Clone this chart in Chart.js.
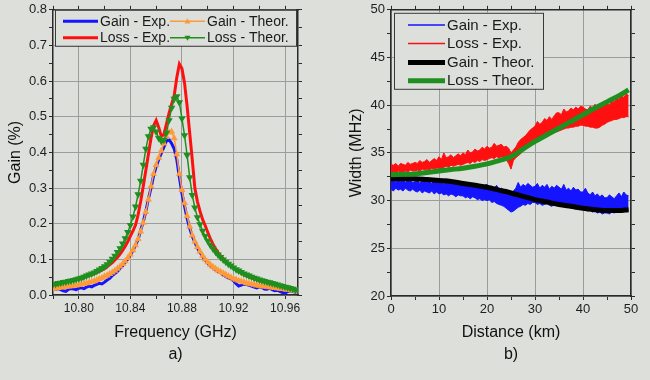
<!DOCTYPE html>
<html>
<head>
<meta charset="utf-8">
<script src="https://cdn.jsdelivr.net/npm/chart.js@4.4.0/dist/chart.umd.min.js"></script>
<style>
  html, body { margin: 0; padding: 0; background: #dddfdb; }
  body { width: 650px; height: 380px; position: relative; overflow: hidden; }
  .panel { position: absolute; top: 0; }
  #panelA { left: 0; }
  #panelB { left: 325px; }
</style>
</head>
<body>
<div class="panel" id="panelA"><canvas id="chartA" width="320" height="380"></canvas></div>
<div class="panel" id="panelB"><canvas id="chartB" width="325" height="380"></canvas></div>
<script>
// ------------------------------
// Panel a) gain spectra vs frequency
// ------------------------------
const freqGHz = [
  10.780, 10.782, 10.784, 10.786, 10.788, 10.790, 10.792, 10.794, 10.796, 10.798,
  10.800, 10.802, 10.804, 10.806, 10.808, 10.810, 10.812, 10.814, 10.816, 10.818,
  10.820, 10.822, 10.824, 10.826, 10.828, 10.830, 10.832, 10.834, 10.836, 10.838,
  10.840, 10.842, 10.844, 10.846, 10.848, 10.850, 10.852, 10.854, 10.856, 10.858,
  10.860, 10.862, 10.864, 10.866, 10.868, 10.870, 10.872, 10.874, 10.876, 10.878,
  10.880, 10.882, 10.884, 10.886, 10.888, 10.890, 10.892, 10.894, 10.896, 10.898,
  10.900, 10.902, 10.904, 10.906, 10.908, 10.910, 10.912, 10.914, 10.916, 10.918,
  10.920, 10.922, 10.924, 10.926, 10.928, 10.930, 10.932, 10.934, 10.936, 10.938,
  10.940, 10.942, 10.944, 10.946, 10.948, 10.950, 10.952, 10.954, 10.956, 10.958,
  10.960, 10.962, 10.964, 10.966, 10.968, 10.970
];

const gainExpA = [
  0.020, 0.016, 0.018, 0.015, 0.012, 0.010, 0.016, 0.018, 0.017, 0.015,
  0.019, 0.020, 0.018, 0.022, 0.025, 0.023, 0.027, 0.030, 0.033, 0.031,
  0.036, 0.042, 0.047, 0.055, 0.060, 0.066, 0.075, 0.082, 0.092, 0.101,
  0.112, 0.125, 0.140, 0.156, 0.182, 0.205, 0.235, 0.270, 0.300, 0.335,
  0.360, 0.380, 0.398, 0.415, 0.432, 0.436, 0.425, 0.410, 0.380, 0.330,
  0.285, 0.250, 0.215, 0.188, 0.165, 0.148, 0.132, 0.120, 0.108, 0.098,
  0.090, 0.082, 0.077, 0.070, 0.066, 0.062, 0.056, 0.052, 0.048, 0.045,
  0.040, 0.032, 0.025, 0.028, 0.031, 0.030, 0.027, 0.025, 0.022, 0.020,
  0.023, 0.021, 0.017, 0.016, 0.019, 0.015, 0.012, 0.013, 0.010, 0.007,
  0.005, 0.010, 0.012, 0.010, 0.008, 0.011
];

const lossExpA = [
  0.028, 0.029, 0.031, 0.032, 0.034, 0.036, 0.038, 0.040, 0.042, 0.045,
  0.048, 0.047, 0.049, 0.052, 0.055, 0.057, 0.060, 0.063, 0.066, 0.070,
  0.074, 0.079, 0.085, 0.091, 0.098, 0.106, 0.115, 0.125, 0.137, 0.150,
  0.165, 0.180, 0.196, 0.225, 0.262, 0.305, 0.350, 0.395, 0.440, 0.475,
  0.490, 0.470, 0.445, 0.450, 0.480, 0.510, 0.535, 0.560, 0.610, 0.648,
  0.635, 0.595, 0.530, 0.455, 0.380, 0.300, 0.262, 0.235, 0.212, 0.195,
  0.176, 0.158, 0.143, 0.130, 0.119, 0.110, 0.102, 0.094, 0.088, 0.082,
  0.076, 0.071, 0.066, 0.062, 0.058, 0.054, 0.051, 0.048, 0.045, 0.043,
  0.040, 0.038, 0.036, 0.034, 0.032, 0.030, 0.028, 0.026, 0.024, 0.022,
  0.020, 0.018, 0.017, 0.016, 0.015, 0.016
];

const gainTheorA = [
  0.018, 0.019, 0.020, 0.021, 0.022, 0.023, 0.024, 0.025, 0.026, 0.027,
  0.028, 0.030, 0.031, 0.033, 0.035, 0.037, 0.039, 0.042, 0.045, 0.048,
  0.052, 0.055, 0.059, 0.063, 0.068, 0.074, 0.080, 0.087, 0.095, 0.104,
  0.114, 0.126, 0.140, 0.157, 0.178, 0.203, 0.233, 0.268, 0.305, 0.340,
  0.365, 0.385, 0.405, 0.425, 0.443, 0.456, 0.458, 0.440, 0.395, 0.340,
  0.295, 0.258, 0.222, 0.192, 0.168, 0.150, 0.135, 0.122, 0.110, 0.100,
  0.092, 0.085, 0.079, 0.074, 0.069, 0.065, 0.061, 0.057, 0.053, 0.049,
  0.046, 0.043, 0.040, 0.038, 0.036, 0.034, 0.032, 0.030, 0.029, 0.027,
  0.026, 0.025, 0.024, 0.023, 0.022, 0.021, 0.020, 0.019, 0.018, 0.017,
  0.016, 0.015, 0.014, 0.013, 0.012, 0.011
];

const lossTheorA = [
  0.030, 0.031, 0.033, 0.034, 0.036, 0.037, 0.039, 0.040, 0.042, 0.044,
  0.046, 0.048, 0.051, 0.054, 0.057, 0.060, 0.063, 0.067, 0.071, 0.075,
  0.080, 0.086, 0.093, 0.101, 0.110, 0.120, 0.131, 0.144, 0.159, 0.176,
  0.196, 0.220, 0.248, 0.282, 0.320, 0.365, 0.410, 0.445, 0.466, 0.470,
  0.458, 0.440, 0.432, 0.435, 0.455, 0.490, 0.525, 0.550, 0.557, 0.540,
  0.495, 0.448, 0.392, 0.330, 0.280, 0.245, 0.218, 0.198, 0.180, 0.165,
  0.152, 0.140, 0.130, 0.121, 0.113, 0.106, 0.099, 0.093, 0.087, 0.082,
  0.077, 0.072, 0.068, 0.064, 0.060, 0.057, 0.054, 0.051, 0.048, 0.046,
  0.043, 0.041, 0.039, 0.037, 0.035, 0.033, 0.031, 0.029, 0.027, 0.025,
  0.023, 0.021, 0.019, 0.017, 0.015, 0.013
];

const freqTicks = [10.80, 10.84, 10.88, 10.92, 10.96];
const gainTicks = [0, 0.1, 0.2, 0.3, 0.4, 0.5, 0.6, 0.7, 0.8];

// ------------------------------
// Panel b) width vs distance (noisy bands: upper and lower edge)
// ------------------------------
const distKm = [
  0, 0.5, 1, 1.5, 2, 2.5, 3, 3.5, 4, 4.5,
  5, 5.5, 6, 6.5, 7, 7.5, 8, 8.5, 9, 9.5,
  10, 10.5, 11, 11.5, 12, 12.5, 13, 13.5, 14, 14.5,
  15, 15.5, 16, 16.5, 17, 17.5, 18, 18.5, 19, 19.5,
  20, 20.5, 21, 21.5, 22, 22.5, 23, 23.5, 24, 24.5,
  25, 25.5, 26, 26.5, 27, 27.5, 28, 28.5, 29, 29.5,
  30, 30.5, 31, 31.5, 32, 32.5, 33, 33.5, 34, 34.5,
  35, 35.5, 36, 36.5, 37, 37.5, 38, 38.5, 39, 39.5,
  40, 40.5, 41, 41.5, 42, 42.5, 43, 43.5, 44, 44.5,
  45, 45.5, 46, 46.5, 47, 47.5, 48, 48.5, 49, 49.5
];

const gainExpHiB = [
  32.1, 32.3, 31.9, 32.2, 32.0, 32.4, 31.9, 32.1, 32.2, 31.9,
  32.0, 32.2, 31.8, 32.1, 32.3, 31.9, 32.0, 31.8, 32.1, 31.9,
  31.9, 32.1, 31.7, 32.3, 31.8, 31.9, 31.7, 32.0, 31.8, 31.7,
  31.6, 31.9, 31.7, 31.5, 31.8, 31.6, 31.5, 31.7, 31.4, 31.6,
  31.7, 31.4, 31.5, 31.3, 31.6, 31.2, 31.3, 31.1, 31.2, 30.9,
  30.7, 31.0, 31.3, 31.9, 31.4, 31.7, 31.5, 31.8, 31.6, 31.4,
  31.5, 31.8, 31.3, 31.6, 31.4, 31.7, 31.2, 31.5, 31.3, 31.6,
  31.4, 31.2, 31.7, 31.1, 31.3, 31.0, 31.4, 31.1, 31.2, 30.9,
  30.9, 31.3, 30.8, 30.6, 30.9, 30.5, 30.7, 30.4, 30.6, 30.3,
  30.3, 30.6, 30.4, 30.2, 30.5, 30.8, 30.4, 30.9, 30.6, 30.5
];

const gainExpLoB = [
  31.2, 31.0, 31.3, 31.1, 31.2, 31.0, 31.3, 31.1, 31.0, 31.2,
  31.0, 30.9, 31.1, 30.8, 31.0, 30.9, 30.8, 31.0, 30.7, 30.9,
  30.7, 30.8, 30.6, 30.7, 30.5, 30.7, 30.6, 30.4, 30.6, 30.5,
  30.5, 30.3, 30.4, 30.2, 30.4, 30.3, 30.1, 30.2, 30.0, 30.1,
  30.0, 30.1, 29.8, 29.9, 29.7, 29.6, 29.5, 29.4, 29.2, 29.0,
  28.8, 28.9, 29.1, 29.3, 29.4, 29.6, 29.5, 29.7, 29.6, 29.8,
  29.8, 29.6, 29.7, 29.5, 29.6, 29.7, 29.5, 29.4, 29.6, 29.5,
  29.6, 29.4, 29.5, 29.3, 29.4, 29.2, 29.3, 29.1, 29.2, 29.1,
  29.1, 29.0, 28.9, 29.0, 28.8, 28.9, 28.7, 28.8, 28.6, 28.7,
  28.7, 28.6, 28.8, 28.7, 28.9, 28.8, 29.0, 28.9, 29.1, 29.0
];

const lossExpHiB = [
  33.8, 33.7, 33.9, 33.6, 33.9, 33.8, 33.7, 34.0, 33.8, 33.9,
  34.0, 33.9, 34.2, 34.0, 34.1, 34.3, 34.0, 34.2, 34.4, 34.2,
  34.6, 34.3, 35.0, 34.5, 34.6, 34.8, 34.5, 34.7, 34.9, 34.7,
  35.0, 34.8, 35.3, 35.0, 35.1, 35.4, 35.2, 35.3, 35.6, 35.4,
  35.7, 35.5, 35.6, 36.0, 35.7, 35.8, 35.9, 35.6, 35.7, 35.5,
  35.0, 35.3, 35.6, 36.1, 36.4, 36.6, 36.8, 37.1, 37.4, 37.6,
  37.8, 38.3, 38.0, 38.2, 38.6, 38.4, 38.8, 38.5, 38.9, 39.2,
  39.2, 39.0, 39.6, 39.3, 39.4, 39.7, 39.5, 39.8, 39.6, 39.9,
  39.8, 39.6, 39.5, 39.9, 39.7, 40.1, 39.8, 40.0, 39.8, 40.1,
  40.2, 40.0, 40.5, 40.3, 40.8, 40.6, 41.1, 40.8, 41.2, 41.0
];

const lossExpLoB = [
  32.9, 33.0, 32.9, 33.1, 33.0, 32.9, 33.1, 33.0, 33.2, 33.1,
  33.1, 33.2, 33.1, 33.3, 33.2, 33.3, 33.2, 33.4, 33.3, 33.4,
  33.4, 33.3, 33.5, 33.6, 33.5, 33.7, 33.6, 33.7, 33.8, 33.7,
  33.8, 33.9, 34.0, 33.9, 34.1, 34.0, 34.2, 34.1, 34.3, 34.2,
  34.3, 34.4, 34.5, 34.4, 34.6, 34.5, 34.6, 34.4, 34.3, 33.9,
  33.3, 34.2, 34.5, 34.7, 34.9, 35.2, 35.4, 35.6, 35.8, 35.9,
  36.0, 36.2, 36.3, 36.5, 36.6, 36.8, 36.9, 37.0, 37.1, 37.2,
  37.3, 37.4, 37.5, 37.6, 37.6, 37.7, 37.7, 37.8, 37.8, 37.9,
  37.9, 37.8, 37.8, 37.7, 37.7, 37.6, 37.6, 37.7, 37.9, 38.0,
  38.2, 38.3, 38.4, 38.5, 38.5, 38.6, 38.7, 38.7, 38.8, 38.8
];

const distTheorKm = [0, 2.5, 5, 7.5, 10, 12.5, 15, 17.5, 20, 22.5, 25, 27.5, 30, 32.5, 35, 37.5, 40, 42.5, 45, 47.5, 49.5];
const gainTheorB = [32.3, 32.3, 32.3, 32.2, 32.1, 32.0, 31.8, 31.6, 31.4, 31.1, 30.8, 30.45, 30.1, 29.85, 29.6, 29.4, 29.2, 29.05, 28.95, 28.95, 29.05];
const lossTheorB = [32.7, 32.75, 32.8, 32.95, 33.1, 33.25, 33.4, 33.6, 33.85, 34.2, 34.6, 35.4, 36.2, 36.9, 37.6, 38.3, 39.0, 39.7, 40.35, 41.0, 41.6];

const distTicks = [0, 10, 20, 30, 40, 50];
const widthTicks = [20, 25, 30, 35, 40, 45, 50];

// ------------------------------
// Shared styling
// ------------------------------
const BG = '#dddfdb';
const INK = '#2a2a2a';
const GRID = '#9c9c9c';
const FONT = '"Liberation Sans", Arial, sans-serif';
const BLUE = '#1414ff';
const RED = '#ff1010';
const ORANGE = '#ff9a3a';
const GREEN = '#1f8f1f';

const pairs = (xs, ys) => xs.map((x, i) => ({ x, y: ys[i] }));
const inList = (list) => (v) => list.some(t => Math.abs(t - v) < 1e-6);

// one axis; mirror axes (top/right) only carry tick marks
function axis({ position, min, max, step, majors, fmt, size, labels, title, tickSize }) {
  const horizontal = position === 'top' || position === 'bottom';
  const isMajor = inList(majors);
  return {
    type: 'linear',
    position, min, max,
    afterFit: s => { if (horizontal) s.height = size; else s.width = size; },
    border: { display: true, color: INK, width: 1.5 },
    grid: {
      drawOnChartArea: labels,
      color: ctx => (ctx.tick && isMajor(ctx.tick.value)) ? GRID : 'rgba(0,0,0,0)',
      tickColor: INK,
      tickLength: 4,
      lineWidth: 1
    },
    ticks: {
      display: labels,
      stepSize: step,
      includeBounds: false,
      autoSkip: false,
      maxRotation: 0,
      padding: 2,
      color: '#1e1e1e',
      font: { family: FONT, size: tickSize || 13 },
      callback: v => isMajor(v) ? fmt(v) : ''
    },
    title: title || { display: false }
  };
}

function axisTitle(text, pad) {
  const lines = Array.isArray(text);
  return {
    display: true,
    text,
    color: '#111',
    font: { family: FONT, size: 16, lineHeight: lines ? 1.375 : 1.2 },
    padding: lines ? { top: 0, bottom: pad } : { top: pad, bottom: 0 }
  };
}

// legend box drawn inside the plot area
const boxLegend = {
  id: 'boxLegend',
  afterDatasetsDraw(chart, args, opts) {
    const { ctx, chartArea: a } = chart;
    const [bx, by, bw, bh] = opts.box;
    ctx.save();
    ctx.fillStyle = BG;
    ctx.fillRect(a.left + bx, a.top + by, bw, bh);
    ctx.strokeStyle = '#3a3a3a';
    ctx.lineWidth = 1;
    ctx.strokeRect(a.left + bx + 0.5, a.top + by + 0.5, bw, bh);
    ctx.font = opts.fontSize + 'px ' + FONT;
    ctx.textBaseline = 'middle';
    ctx.textAlign = 'left';
    opts.items.forEach(it => {
      const x0 = a.left + it.x, y0 = a.top + it.y;
      ctx.strokeStyle = it.color;
      ctx.lineWidth = it.width;
      ctx.beginPath();
      ctx.moveTo(x0, y0);
      ctx.lineTo(x0 + opts.len, y0);
      ctx.stroke();
      if (it.marker) {
        const cx = x0 + opts.len / 2, r = 3;
        const d = it.marker === 'down' ? -1 : 1;
        ctx.fillStyle = it.color;
        ctx.beginPath();
        ctx.moveTo(cx, y0 - d * r);
        ctx.lineTo(cx + r, y0 + d * r * 0.7);
        ctx.lineTo(cx - r, y0 + d * r * 0.7);
        ctx.closePath();
        ctx.fill();
      }
      ctx.fillStyle = '#1a1a1a';
      ctx.fillText(it.label, x0 + opts.len + 2, y0 + 0.5);
    });
    ctx.restore();
  }
};

const common = {
  responsive: false,
  animation: false,
  devicePixelRatio: 1,
  layout: { padding: 0 },
  elements: { point: { borderWidth: 0 } }
};

// ------------------------------
// Chart a)
// ------------------------------
new Chart(document.getElementById('chartA'), {
  type: 'line',
  data: {
    datasets: [
      { label: 'Gain - Exp.', data: pairs(freqGHz, gainExpA), borderColor: BLUE, borderWidth: 3, pointRadius: 0, order: 3 },
      { label: 'Loss - Exp.', data: pairs(freqGHz, lossExpA), borderColor: RED, borderWidth: 3, pointRadius: 0, order: 2 },
      { label: 'Gain - Theor.', data: pairs(freqGHz, gainTheorA), borderColor: ORANGE, backgroundColor: ORANGE, borderWidth: 1.5,
        pointStyle: 'triangle', pointRadius: 2.6, order: 1 },
      { label: 'Loss - Theor.', data: pairs(freqGHz, lossTheorA), borderColor: GREEN, backgroundColor: GREEN, borderWidth: 1.5,
        pointStyle: 'triangle', rotation: 180, pointRadius: 2.8, order: 0 }
    ]
  },
  options: {
    ...common,
    scales: {
      x: axis({ position: 'bottom', min: 10.78, max: 10.97, step: 0.02, majors: freqTicks, fmt: v => v.toFixed(2),
                size: 85, labels: true, tickSize: 12, title: axisTitle(['Frequency (GHz)', 'a)'], 14) }),
      x2: axis({ position: 'top', min: 10.78, max: 10.97, step: 0.02, majors: freqTicks, fmt: v => '', size: 8, labels: false }),
      y: axis({ position: 'left', min: 0, max: 0.8, step: 0.05, majors: gainTicks, fmt: v => v.toFixed(1),
                size: 53, labels: true, title: axisTitle('Gain (%)', 6) }),
      y2: axis({ position: 'right', min: 0, max: 0.8, step: 0.05, majors: gainTicks, fmt: v => '', size: 22, labels: false })
    },
    plugins: {
      legend: { display: false },
      tooltip: { enabled: false },
      boxLegend: {
        box: [2, 0, 241, 36],
        len: 35,
        fontSize: 14,
        items: [
          { label: 'Gain - Exp.', color: BLUE, width: 3, x: 10, y: 11.5 },
          { label: 'Loss - Exp.', color: RED, width: 3, x: 10, y: 28 },
          { label: 'Gain - Theor.', color: ORANGE, width: 1.5, marker: 'up', x: 117, y: 11.5 },
          { label: 'Loss - Theor.', color: GREEN, width: 1.5, marker: 'down', x: 117, y: 28 }
        ]
      }
    }
  },
  plugins: [boxLegend]
});

// ------------------------------
// Chart b)
// ------------------------------
new Chart(document.getElementById('chartB'), {
  type: 'line',
  data: {
    datasets: [
      { label: 'Gain - Exp.', data: pairs(distKm, gainExpHiB), borderColor: BLUE, backgroundColor: BLUE, borderWidth: 1,
        pointRadius: 0, fill: '+1', order: 3 },
      { label: 'Gain - Exp. low', data: pairs(distKm, gainExpLoB), borderColor: BLUE, borderWidth: 1, pointRadius: 0, order: 3 },
      { label: 'Loss - Exp.', data: pairs(distKm, lossExpHiB), borderColor: RED, backgroundColor: RED, borderWidth: 1,
        pointRadius: 0, fill: '+1', order: 2 },
      { label: 'Loss - Exp. low', data: pairs(distKm, lossExpLoB), borderColor: RED, borderWidth: 1, pointRadius: 0, order: 2 },
      { label: 'Gain - Theor.', data: pairs(distTheorKm, gainTheorB), borderColor: '#000000', borderWidth: 5, pointRadius: 0,
        cubicInterpolationMode: 'monotone', order: 1 },
      { label: 'Loss - Theor.', data: pairs(distTheorKm, lossTheorB), borderColor: GREEN, borderWidth: 5, pointRadius: 0,
        cubicInterpolationMode: 'monotone', order: 0 }
    ]
  },
  options: {
    ...common,
    scales: {
      x: axis({ position: 'bottom', min: 0, max: 50, step: 5, majors: distTicks, fmt: v => String(v),
                size: 84, labels: true, title: axisTitle(['Distance (km)', 'b)'], 14) }),
      x2: axis({ position: 'top', min: 0, max: 50, step: 5, majors: distTicks, fmt: v => '', size: 8, labels: false }),
      y: axis({ position: 'left', min: 20, max: 50, step: 2.5, majors: widthTicks, fmt: v => String(v),
                size: 66, labels: true, title: axisTitle('Width (MHz)', 22) }),
      y2: axis({ position: 'right', min: 20, max: 50, step: 2.5, majors: widthTicks, fmt: v => '', size: 19, labels: false })
    },
    plugins: {
      legend: { display: false },
      tooltip: { enabled: false },
      filler: { propagate: false },
      boxLegend: {
        box: [3, 3, 149, 76],
        len: 37,
        fontSize: 15,
        items: [
          { label: 'Gain - Exp.', color: BLUE, width: 1.5, x: 17, y: 15.3 },
          { label: 'Loss - Exp.', color: RED, width: 1.5, x: 17, y: 33.7 },
          { label: 'Gain - Theor.', color: '#000000', width: 5, x: 17, y: 52.7 },
          { label: 'Loss - Theor.', color: GREEN, width: 5, x: 17, y: 71 }
        ]
      }
    }
  },
  plugins: [boxLegend]
});
</script>
</body>
</html>
